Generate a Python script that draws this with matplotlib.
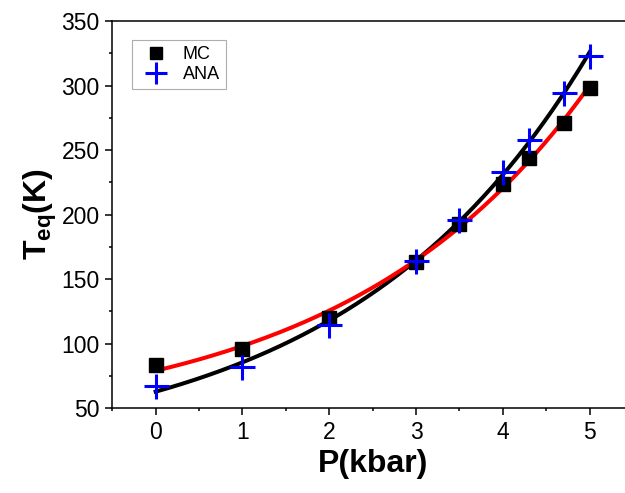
import numpy as np
import matplotlib
matplotlib.use("Agg")
import matplotlib.pyplot as plt
from matplotlib.ticker import MultipleLocator

plt.rcParams['font.family'] = ['Liberation Sans', 'DejaVu Sans']
plt.rcParams['mathtext.fontset'] = 'custom'
plt.rcParams['mathtext.rm'] = 'Liberation Sans'
plt.rcParams['mathtext.bf'] = 'Liberation Sans:bold'
plt.rcParams['mathtext.it'] = 'Liberation Sans:italic'

# data
pressure = [0, 1, 2, 3, 3.5, 4, 4.3, 4.7, 5]
t_mc = [83, 96, 120, 163, 193, 224, 244, 271, 298]
t_ana = [67, 82, 114, 164, 196, 233, 258, 294, 323]


def exp_fit(x, y, xs):
    # y = y0 + A*exp(b*x), least squares over a grid of b
    x = np.asarray(x, float)
    y = np.asarray(y, float)
    best = None
    for b in np.linspace(0.05, 1.5, 600):
        M = np.column_stack([np.ones_like(x), np.exp(b * x)])
        coef, *_ = np.linalg.lstsq(M, y, rcond=None)
        err = np.sum((M @ coef - y) ** 2)
        if best is None or err < best[0]:
            best = (err, b, coef)
    _, b, (y0, a) = best
    return y0 + a * np.exp(b * xs)


p_fine = np.linspace(0, 5, 200)
fit_mc = exp_fit(pressure, t_mc, p_fine)
fit_ana = exp_fit(pressure, t_ana, p_fine)

fig = plt.figure(figsize=(6.25, 4.93), dpi=100)
ax = fig.add_axes([0.1797, 0.1724, 0.833, 0.785])

ax.plot(p_fine, fit_ana, color='black', lw=2.9, zorder=2)
ax.plot(p_fine, fit_mc, color='red', lw=2.9, zorder=3)
ax.plot(pressure, t_mc, 's', color='black', ms=10, ls='none', label='MC', zorder=4)
ax.plot(pressure, t_ana, '+', color='blue', ms=18, mew=2.2, ls='none', label='ANA', zorder=5)

ax.set_xlim(-0.5, 5.5)
ax.set_ylim(50, 350)
ax.xaxis.set_major_locator(MultipleLocator(1))
ax.xaxis.set_minor_locator(MultipleLocator(0.5))
ax.yaxis.set_major_locator(MultipleLocator(50))
ax.yaxis.set_minor_locator(MultipleLocator(25))
ax.tick_params(which='both', direction='out', top=False, right=False, labelsize=16.5, width=1.1)
ax.tick_params(which='major', length=5, pad=4)
ax.tick_params(which='minor', length=2.5)
for s in ax.spines.values():
    s.set_linewidth(1.1)

ax.set_xlabel('P(kbar)', fontsize=23, fontweight='bold', labelpad=4)
ax.set_ylabel(r'$\mathbf{T_{eq}(K)}$', fontsize=23, labelpad=2)

leg = ax.legend(loc='upper left', bbox_to_anchor=(0.038, 0.951), fontsize=13, frameon=True,
                fancybox=False, edgecolor='#999999', handlelength=2.0, handletextpad=0.45,
                borderpad=0.35, labelspacing=0.15, borderaxespad=0, markerscale=0.9)
leg.get_frame().set_linewidth(0.8)

fig.savefig('out.png', dpi=100)
